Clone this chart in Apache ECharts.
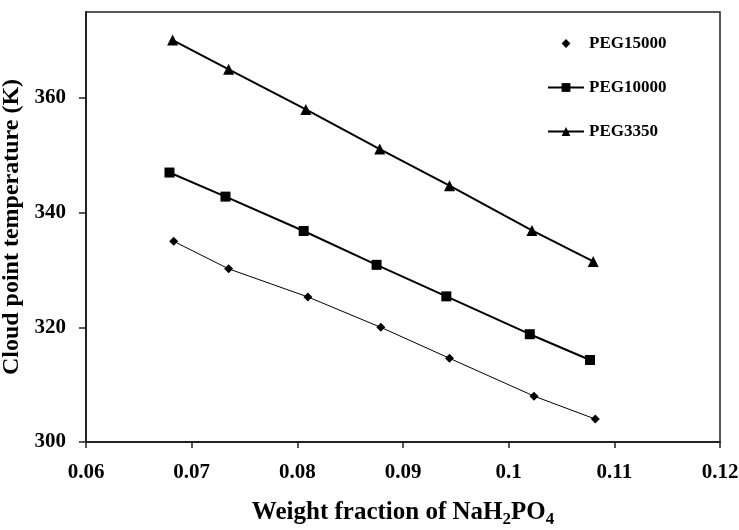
<!DOCTYPE html>
<html>
<head>
<meta charset="utf-8">
<script src="https://cdn.jsdelivr.net/npm/echarts@6/dist/echarts.min.js"></script>
<style>html,body{margin:0;padding:0;background:#fff;}#c{width:739px;height:530px;}</style>
</head>
<body>
<div id="c"></div>
<script>
var seriesNames = ['PEG15000', 'PEG10000', 'PEG3350'];
var xPEG15000 = [0.0683, 0.0735, 0.0810, 0.0879, 0.0944, 0.1024, 0.1082];
var yPEG15000 = [335.0, 330.2, 325.3, 320.0, 314.6, 308.0, 304.0];
var xPEG10000 = [0.0679, 0.0732, 0.0806, 0.0875, 0.0941, 0.1020, 0.1077];
var yPEG10000 = [347.0, 342.8, 336.8, 330.9, 325.4, 318.8, 314.3];
var xPEG3350 = [0.0682, 0.0735, 0.0808, 0.0878, 0.0944, 0.1022, 0.1080];
var yPEG3350 = [370.1, 365.0, 358.0, 351.1, 344.7, 336.9, 331.5];
var xTicks = [0.06, 0.07, 0.08, 0.09, 0.10, 0.11, 0.12];
var yTicks = [300, 320, 340, 360];

function pairs(xs, ys) { return xs.map(function (x, i) { return [x, ys[i]]; }); }

var font = 'Liberation Serif, Times New Roman, serif';
var chart = echarts.init(document.getElementById('c'));
chart.setOption({
  animation: false,
  backgroundColor: '#fff',
  grid: { left: 86, right: 19, top: 12, bottom: 88, containLabel: false, outerBoundsMode: 'none',
    show: true, borderColor: '#222', borderWidth: 1.5 },
  legend: {
    orient: 'vertical', left: 542, top: 30, itemWidth: 36, itemHeight: 11, itemGap: 27,
    textStyle: { fontFamily: font, fontWeight: 'bold', fontSize: 17, color: '#000' },
    data: [
      { name: seriesNames[0], lineStyle: { opacity: 0, width: 0 } },
      { name: seriesNames[1] },
      { name: seriesNames[2] }
    ]
  },
  xAxis: {
    type: 'value', min: 0.06, max: 0.12, interval: 0.01,
    axisLine: { lineStyle: { color: '#222', width: 2 } },
    axisTick: { inside: false, length: 6, lineStyle: { color: '#222', width: 1.5 } },
    splitLine: { show: false },
    axisLabel: { margin: 20, fontFamily: font, fontWeight: 'bold', fontSize: 21, color: '#000',
      formatter: function (v) { return String(parseFloat(v.toFixed(2))); } },
    name: 'Weight fraction of NaH{sub|2}PO{sub|4}', nameLocation: 'middle', nameGap: 55,
    nameTextStyle: { fontFamily: font, fontWeight: 'bold', fontSize: 25, color: '#000',
      rich: { sub: { fontFamily: font, fontWeight: 'bold', fontSize: 17, color: '#000', verticalAlign: 'bottom', padding: [14, 0, 0, 0] } } }
  },
  yAxis: {
    type: 'value', min: 300, max: 375, interval: 20,
    axisLine: { show: true, lineStyle: { color: '#222', width: 2 } },
    axisTick: { show: true, inside: false, length: 7, customValues: yTicks, lineStyle: { color: '#222', width: 1.5 } },
    splitLine: { show: false },
    axisLabel: { margin: 20, customValues: yTicks, fontFamily: font, fontWeight: 'bold', fontSize: 21, color: '#000' },
    name: 'Cloud point temperature (K)', nameLocation: 'middle', nameRotate: 90, nameGap: 50,
    nameTextStyle: { fontFamily: font, fontWeight: 'bold', fontSize: 24, color: '#000' }
  },
  series: [
    { name: seriesNames[0], type: 'line', data: pairs(xPEG15000, yPEG15000), symbol: 'diamond', symbolSize: 9,
      itemStyle: { color: '#000' }, lineStyle: { color: '#000', width: 1 } },
    { name: seriesNames[1], type: 'line', data: pairs(xPEG10000, yPEG10000), symbol: 'rect', symbolSize: 10,
      itemStyle: { color: '#000' }, lineStyle: { color: '#000', width: 2 } },
    { name: seriesNames[2], type: 'line', data: pairs(xPEG3350, yPEG3350), symbol: 'triangle', symbolSize: 11,
      itemStyle: { color: '#000' }, lineStyle: { color: '#000', width: 2 } }
  ]
});
</script>
</body>
</html>
